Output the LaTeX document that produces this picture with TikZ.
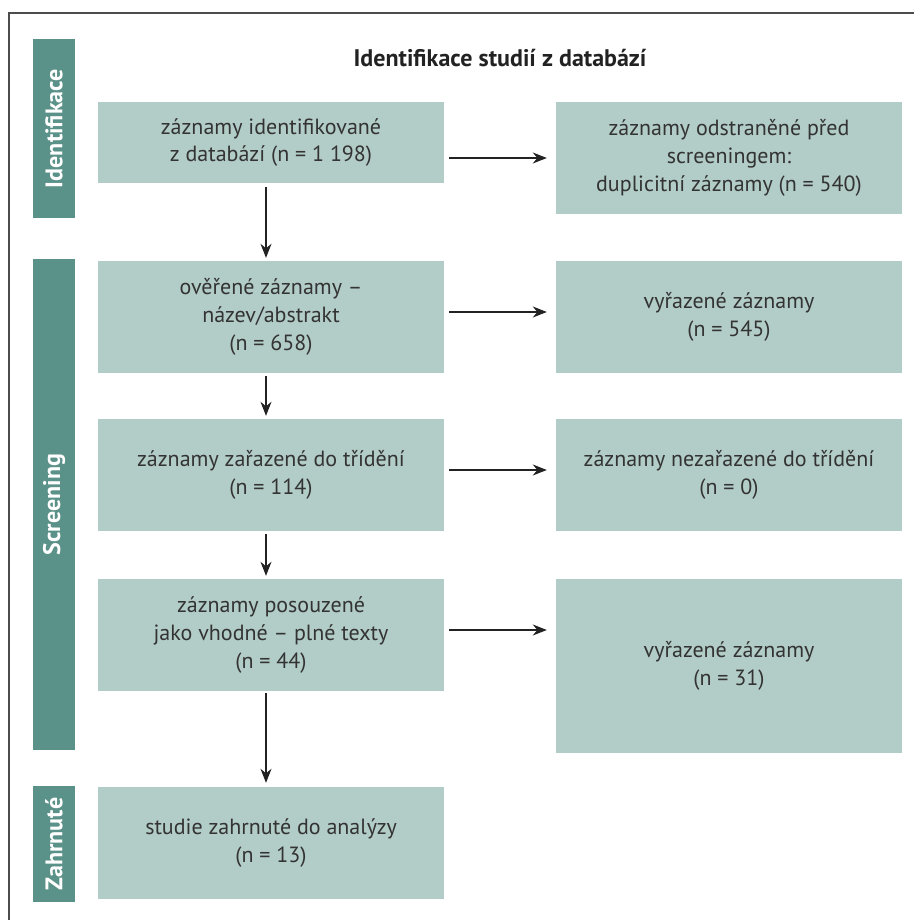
\documentclass[tikz,border=0pt]{standalone}
\usepackage{fontspec}
\setmainfont{PT Sans}
\usetikzlibrary{arrows.meta,calc}
\definecolor{boxfill}{HTML}{B2CCC7}
\definecolor{sidefill}{HTML}{5A9188}
\definecolor{txt}{HTML}{333333}
\definecolor{linecol}{HTML}{222222}
\begin{document}
\begin{tikzpicture}[x=1pt,y=-1pt,
  box/.style={fill=boxfill, draw=none, minimum width=346pt, inner sep=0pt,
    align=center, text=txt, font=\fontsize{22}{28}\selectfont},
  side/.style={fill=sidefill, draw=none, rotate=90, minimum height=42pt,
    inner sep=0pt, text=white, font=\bfseries\fontsize{24}{28}\selectfont},
  arr/.style={-{Stealth[length=14pt,width=11pt,inset=4.5pt]}, line width=1.3pt, draw=linecol},
  frame/.style={line width=1.4pt, draw=black!70}]
\useasboundingbox (0,0) rectangle (914,920);
\draw[frame] (914,13) -- (9,13) -- (9,920);

\node[font=\bfseries\fontsize{24}{28}\selectfont, text=linecol] (title) at (500,58) {Identifikace studií z databází};

% sidebars
\node[side, minimum width=179pt] (S1) at (54,128.5) {Identifikace};
\node[side, minimum width=491pt] (S2) at (54,504.5) {Screening};
\node[side, minimum width=116pt] (S3) at (54,844) {Zahrnuté};

% left column
\node[box, minimum height=81pt] (B1) at (271,142.5) {záznamy identifikované\\z databází (n = 1 198)};
\node[box, minimum height=112pt] (B2) at (271,317) {ověřené záznamy –\\název/abstrakt\\(n = 658)};
\node[box, minimum height=112pt] (B3) at (271,475) {záznamy zařazené do třídění\\(n = 114)};
\node[box, minimum height=112pt] (B4) at (271,635) {záznamy posouzené\\jako vhodné – plné texty\\(n = 44)};
\node[box, minimum height=112pt] (B5) at (271,843) {studie zahrnuté do analýzy\\(n = 13)};

% right column
\node[box, minimum height=112pt] (R1) at (729,158) {záznamy odstraněné před\\screeningem:\\duplicitní záznamy (n = 540)};
\node[box, minimum height=112pt] (R2) at (729,317) {vyřazené záznamy\\(n = 545)};
\node[box, minimum height=112pt] (R3) at (729,475) {záznamy nezařazené do třídění\\(n = 0)};
\node[box, minimum height=174pt] (R4) at (729,666) {vyřazené záznamy\\(n = 31)};

% vertical arrows
\draw[arr] ($(B1.south)+(-5,4)$) -- ($(B2.north)+(-5,-3)$);
\draw[arr] ($(B2.south)+(-5,3)$) -- ($(B3.north)+(-5,-3)$);
\draw[arr] ($(B3.south)+(-5,3)$) -- ($(B4.north)+(-5,-3)$);
\draw[arr] ($(B4.south)+(-5,2)$) -- ($(B5.north)+(-5,-4)$);

% horizontal arrows
\draw[arr] ($(B1.east |- R1.west)+(5,0)$) -- ($(R1.west)+(-9,0)$);
\draw[arr] ($(B2.east)+(5,-5)$) -- ($(R2.west)+(-9,-5)$);
\draw[arr] ($(B3.east)+(5,-5)$) -- ($(R3.west)+(-9,-5)$);
\draw[arr] ($(B4.east)+(5,-5)$) -- ($(B4.east -| R4.west)+(-9,-5)$);
\end{tikzpicture}
\end{document}
